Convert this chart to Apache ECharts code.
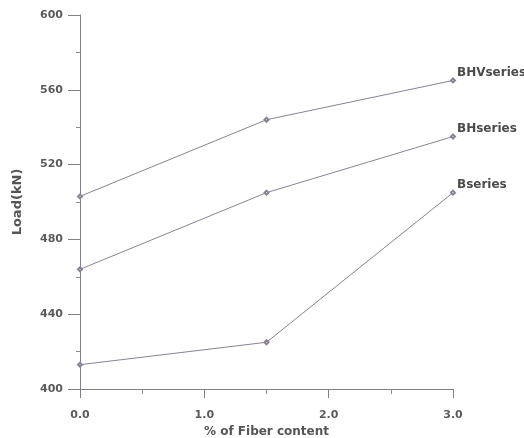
<!DOCTYPE html>
<html>
<head>
<meta charset="utf-8">
<script src="https://cdn.jsdelivr.net/npm/echarts@6/dist/echarts.min.js"></script>
<style>
  html, body { margin: 0; padding: 0; background: #fff; }
  #chart { width: 524px; height: 438px; }
</style>
</head>
<body>
<div id="chart"></div>
<script>
const fiber = [0, 1.5, 3.0];
const bhvSeries = [503, 544, 565];
const bhSeries = [464, 505, 535];
const bSeries = [413, 425, 505];

const names = ['BHVseries', 'BHseries', 'Bseries'];
const values = [bhvSeries, bhSeries, bSeries];

const chart = echarts.init(document.getElementById('chart'));

const font = 'DejaVu Sans';
const axisText = { color: '#5a5a5a', fontSize: 11, fontWeight: 'bold', fontFamily: font };

chart.setOption({
	backgroundColor: '#fff',
	animation: false,
	grid: { left: 80, right: 71, top: 15, bottom: 49, containLabel: false, outerBoundsMode: 'none' },
	xAxis: {
		type: 'value',
		min: 0,
		max: 3,
		interval: 1,
		name: '% of Fiber content',
		nameLocation: 'middle',
		nameGap: 35,
		nameTextStyle: { color: '#555', fontSize: 12, fontWeight: 'bold', fontFamily: font },
		axisLine: { onZero: false, lineStyle: { color: '#808088', width: 1 } },
		axisTick: { length: 9, lineStyle: { color: '#808088' } },
		minorTick: { show: true, splitNumber: 2, length: 5, lineStyle: { color: '#8a8a90' } },
		splitLine: { show: false },
		axisLabel: { ...axisText, margin: 21, formatter: (v) => v.toFixed(1) },
	},
	yAxis: {
		type: 'value',
		min: 400,
		max: 600,
		interval: 40,
		name: 'Load(kN)',
		nameLocation: 'middle',
		nameGap: 56,
		nameTextStyle: { color: '#555', fontSize: 13, fontWeight: 'bold', fontFamily: font },
		axisLine: { show: true, lineStyle: { color: '#808088', width: 1 } },
		axisTick: { show: true, length: 12, lineStyle: { color: '#808088' } },
		minorTick: { show: true, splitNumber: 2, length: 4, lineStyle: { color: '#8a8a90' } },
		splitLine: { show: false },
		axisLabel: { ...axisText, margin: 17 },
	},
	series: names.map((name, i) => ({
		name: name,
		type: 'line',
		data: fiber.map((x, j) => [x, values[i][j]]),
		symbol: 'emptyDiamond',
		symbolSize: 4,
		lineStyle: { color: '#8a8294', width: 1 },
		itemStyle: { color: '#8a8294' },
		endLabel: {
			show: true,
			formatter: '{a}',
			color: '#4a4a4a',
			fontSize: 12,
			fontWeight: 'bold',
			fontFamily: font,
			offset: [-4, -8],
		},
	})),
});
</script>
</body>
</html>
